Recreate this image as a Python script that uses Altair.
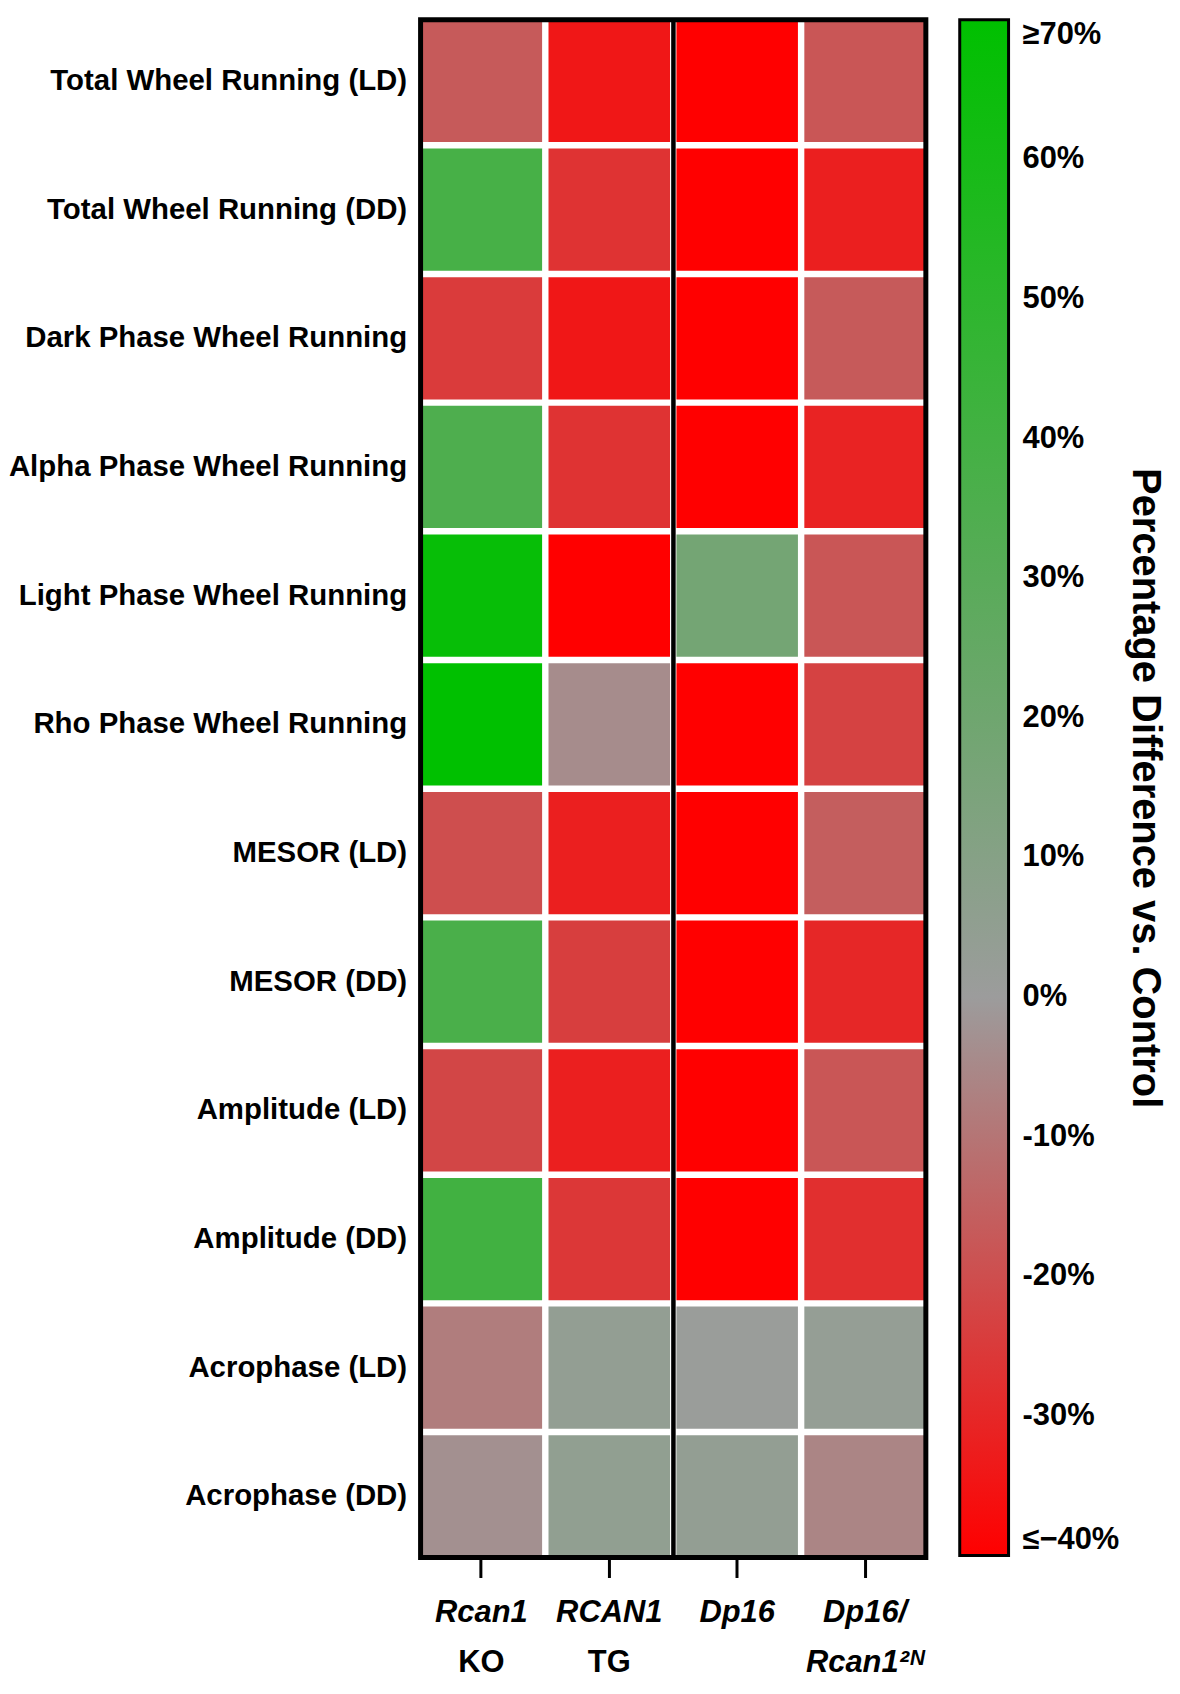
import altair as alt
import pandas as pd

measures = [
    "Total Wheel Running (LD)",
    "Total Wheel Running (DD)",
    "Dark Phase Wheel Running",
    "Alpha Phase Wheel Running",
    "Light Phase Wheel Running",
    "Rho Phase Wheel Running",
    "MESOR (LD)",
    "MESOR (DD)",
    "Amplitude (LD)",
    "Amplitude (DD)",
    "Acrophase (LD)",
    "Acrophase (DD)",
]
groups = ["Rcan1 KO", "RCAN1 TG", "Dp16", "Dp16/Rcan1 2N"]
line1 = ["Rcan1", "RCAN1", "Dp16", "Dp16/"]
line2 = ["KO", "TG", "", "Rcan1\u00b2\u1d3a"]

# percentage difference vs control, one list per group (rows in order of measures)
rcan1_ko = [-17, 38, -25, 35, 67, 80, -20, 37, -22, 41, -8, -3]
rcan1_tg = [-34, -27, -34, -27, -40, -4, -32, -24, -32, -26, 4, 5]
dp16 = [-42, -42, -41, -42, 18, -45, -41, -42, -41, -42, 1, 4]
dp16_rcan1 = [-18, -32, -17, -31, -18, -23, -16, -30, -18, -28, 3, -6]

legend_ticks = [-40, -30, -20, -10, 0, 10, 20, 30, 40, 50, 60, 70]

series = [rcan1_ko, rcan1_tg, dp16, dp16_rcan1]
records = []
for g, vals in zip(groups, series):
    for m, v in zip(measures, vals):
        records.append({"group": g, "measure": m, "value": v})
df = pd.DataFrame(records)

divider_df = pd.DataFrame({"group": ["Dp16"]})
frame_df = pd.DataFrame({"frame": [1]})

FONT = "Liberation Sans"
W, H = 507, 1543

l1_expr = " : ".join(
    [f"datum.value == '{g}' ? '{a}'" for g, a in zip(groups, line1)] + ["''"]
)
l2_expr = " : ".join(
    [f"datum.value == '{g}' ? '{b}'" for g, b in zip(groups, line2)] + ["''"]
)

x_scale = alt.Scale(domain=groups, paddingInner=0.05, paddingOuter=0)

heat = alt.Chart(df).mark_rect().encode(
    x=alt.X(
        "group:N",
        sort=groups,
        scale=x_scale,
        axis=alt.Axis(
            title=None,
            orient="bottom",
            labelAngle=0,
            domain=False,
            ticks=True,
            tickSize=20,
            tickWidth=3,
            tickColor="black",
            labelFont=FONT,
            labelFontSize=31,
            labelFontWeight="bold",
            labelFontStyle="italic",
            labelColor="black",
            labelPadding=20,
            labelExpr=l1_expr,
        ),
    ),
    y=alt.Y(
        "measure:N",
        sort=measures,
        scale=alt.Scale(domain=measures, paddingInner=0.05, paddingOuter=0),
        axis=alt.Axis(
            title=None,
            ticks=False,
            domain=False,
            labelFont=FONT,
            labelFontSize=29.5,
            labelFontWeight="bold",
            labelColor="black",
            labelPadding=14,
            labelLimit=0,
        ),
    ),
    color=alt.Color(
        "value:Q",
        scale=alt.Scale(
            domain=[-40, 0, 70],
            range=["#ff0000", "#9c9c9c", "#00c000"],
            clamp=True,
            interpolate="rgb",
        ),
        legend=alt.Legend(
            title="Percentage Difference vs. Control",
            orient="right",
            direction="vertical",
            offset=34,
            gradientLength=H - 2,
            gradientThickness=49,
            gradientStrokeColor="black",
            gradientStrokeWidth=3,
            values=legend_ticks,
            labelExpr="datum.value >= 70 ? '\u226570%' : datum.value <= -40 ? '\u2264\u221240%' : datum.value + '%'",
            labelFont=FONT,
            labelFontSize=31,
            labelFontWeight="bold",
            labelColor="black",
            labelOffset=14,
            labelOverlap=False,
            labelBaseline="middle",
            titleFont=FONT,
            titleFontSize=40,
            titleFontWeight="bold",
            titleColor="black",
            titleOrient="right",
            titleAnchor="middle",
            titlePadding=6,
            titleLimit=0,
        ),
    ),
)

divider = alt.Chart(divider_df).mark_rule(color="black", strokeWidth=4.5, xOffset=-3).encode(
    x=alt.X(
        "group:N",
        bandPosition=0,
        scale=x_scale,
        axis=alt.Axis(
            title=None,
            orient="bottom",
            offset=90,
            labelAngle=0,
            domain=False,
            ticks=False,
            labelFont=FONT,
            labelFontSize=31,
            labelFontWeight="bold",
            labelFontStyle={
                "condition": {"test": "datum.value == 'Dp16/Rcan1 2N'", "value": "italic"},
                "value": "normal",
            },
            labelColor="black",
            labelPadding=0,
            labelExpr=l2_expr,
        ),
    )
)

frame = alt.Chart(frame_df).mark_rect(fill=None, stroke="black", strokeWidth=5).encode(
    x=alt.value(0),
    x2=alt.value(W),
    y=alt.value(0),
    y2=alt.value(H),
)

chart = (
    alt.layer(heat, divider, frame)
    .resolve_scale(x="shared")
    .resolve_axis(x="independent")
    .properties(
        width=W,
        height=H,
        padding={"left": 0, "top": 6, "right": 6, "bottom": 0},
    )
    .configure_view(stroke=None)
    .configure(background="white")
)

chart.save("out.html", embed_options={"renderer": "svg", "actions": False})
